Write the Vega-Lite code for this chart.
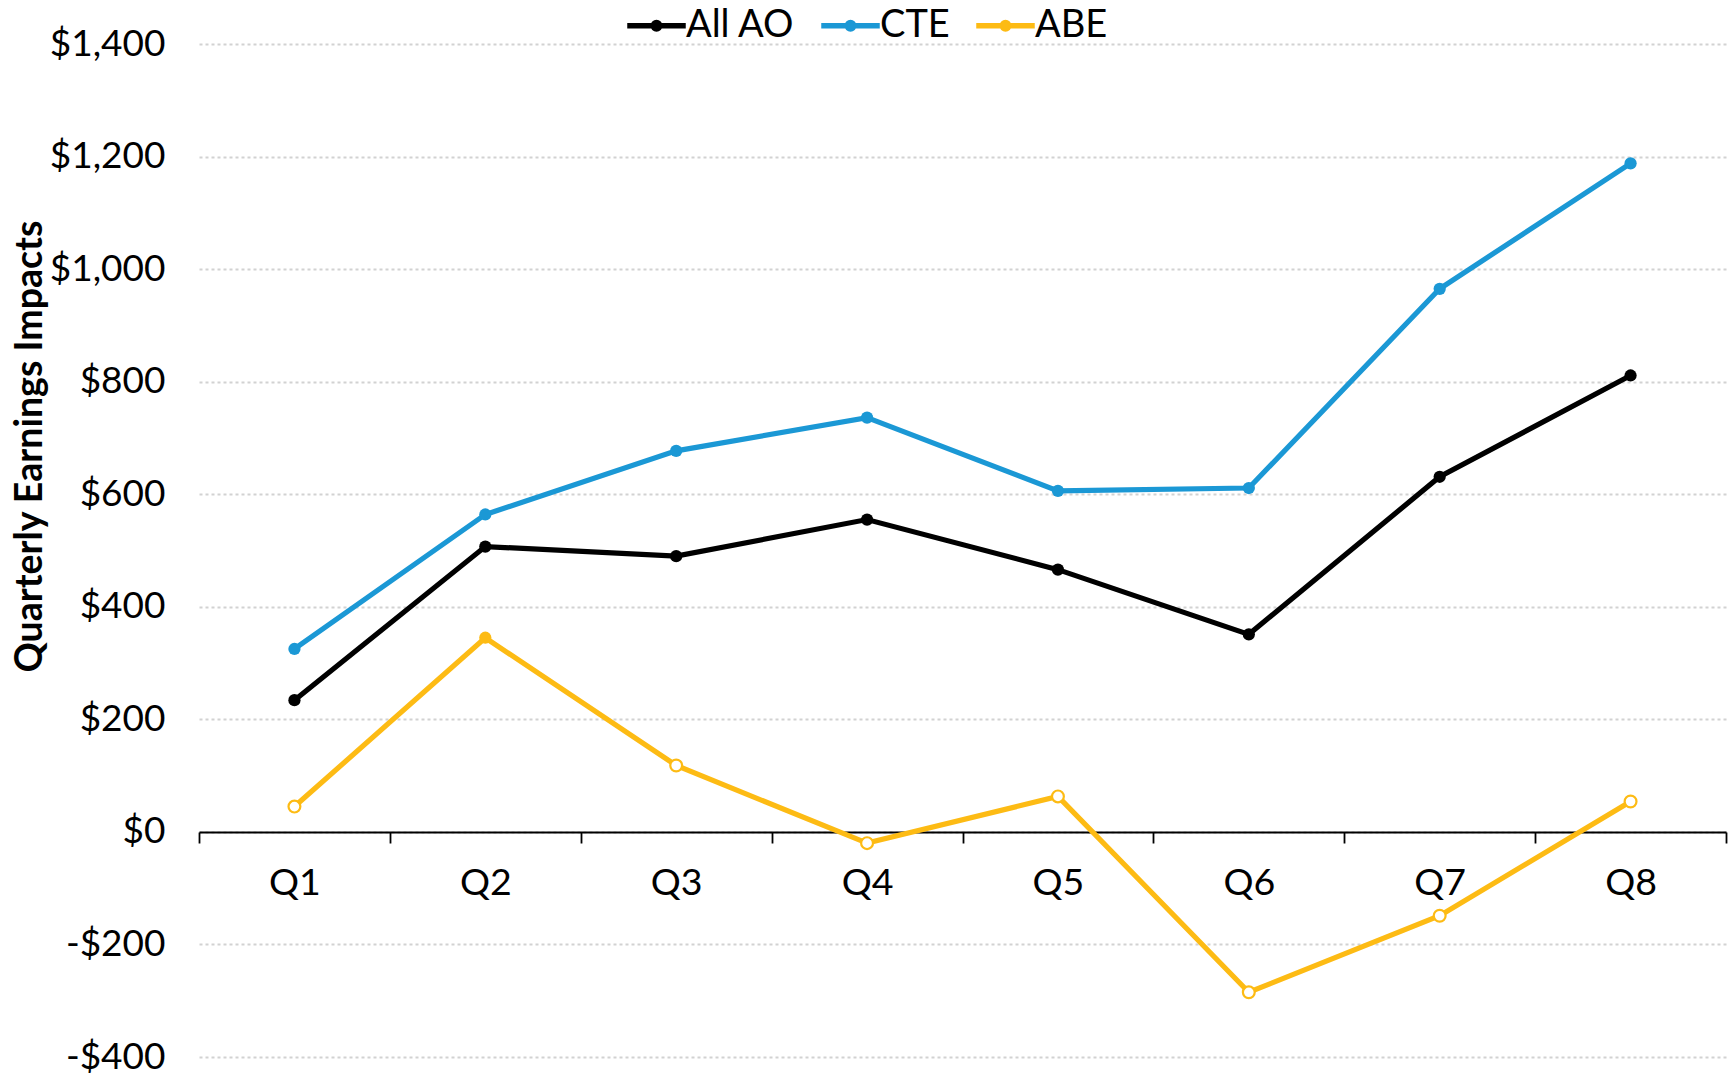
{
  "$schema": "https://vega.github.io/schema/vega-lite/v6.json",
  "width": 1527,
  "height": 1013,
  "autosize": {"type": "none"},
  "padding": {"left": 199, "top": 44, "right": 9, "bottom": 19},
  "background": "#ffffff",
  "config": {
    "font": "Lato",
    "view": {"stroke": null}
  },
  "data": {
    "values": [
      {"quarter": "Q1", "series": "All AO", "value": 234, "sig": true},
      {"quarter": "Q2", "series": "All AO", "value": 507, "sig": true},
      {"quarter": "Q3", "series": "All AO", "value": 490, "sig": true},
      {"quarter": "Q4", "series": "All AO", "value": 555, "sig": true},
      {"quarter": "Q5", "series": "All AO", "value": 466, "sig": true},
      {"quarter": "Q6", "series": "All AO", "value": 351, "sig": true},
      {"quarter": "Q7", "series": "All AO", "value": 631, "sig": true},
      {"quarter": "Q8", "series": "All AO", "value": 811, "sig": true},
      {"quarter": "Q1", "series": "CTE", "value": 325, "sig": true},
      {"quarter": "Q2", "series": "CTE", "value": 564, "sig": true},
      {"quarter": "Q3", "series": "CTE", "value": 677, "sig": true},
      {"quarter": "Q4", "series": "CTE", "value": 736, "sig": true},
      {"quarter": "Q5", "series": "CTE", "value": 606, "sig": true},
      {"quarter": "Q6", "series": "CTE", "value": 611, "sig": true},
      {"quarter": "Q7", "series": "CTE", "value": 965, "sig": true},
      {"quarter": "Q8", "series": "CTE", "value": 1188, "sig": true},
      {"quarter": "Q1", "series": "ABE", "value": 45, "sig": false},
      {"quarter": "Q2", "series": "ABE", "value": 345, "sig": true},
      {"quarter": "Q3", "series": "ABE", "value": 118, "sig": false},
      {"quarter": "Q4", "series": "ABE", "value": -20, "sig": false},
      {"quarter": "Q5", "series": "ABE", "value": 63, "sig": false},
      {"quarter": "Q6", "series": "ABE", "value": -285, "sig": false},
      {"quarter": "Q7", "series": "ABE", "value": -149, "sig": false},
      {"quarter": "Q8", "series": "ABE", "value": 54, "sig": false}
    ]
  },
  "encoding": {
    "x": {
      "field": "quarter",
      "type": "ordinal",
      "sort": null,
      "bandPosition": 0.5,
      "scale": {"type": "band", "paddingInner": 0, "paddingOuter": 0},
      "axis": {
        "title": null,
        "orient": "bottom",
        "offset": -225,
        "grid": false,
        "tickBand": "extent",
        "domainColor": "#000000",
        "domainWidth": 1.8,
        "tickColor": "#000000",
        "tickWidth": 1.8,
        "tickSize": 11,
        "labelAngle": 0,
        "labelFontSize": 37.5,
        "labelColor": "#000000",
        "labelPadding": 21
      }
    },
    "y": {
      "field": "value",
      "type": "quantitative",
      "scale": {"domain": [-400, 1400], "nice": false, "zero": false},
      "axis": {
        "title": "Quarterly Earnings Impacts",
        "titleFontSize": 37.5,
        "titleFontWeight": "bold",
        "titleColor": "#000000",
        "titleY": 402,
        "titlePadding": 0,
        "values": [-400, -200, 0, 200, 400, 600, 800, 1000, 1200, 1400],
        "labelExpr": "(datum.value < 0 ? '-' : '') + '$' + format(abs(datum.value), ',')",
        "labelFontSize": 37,
        "labelColor": "#000000",
        "labelPadding": 34,
        "ticks": false,
        "domain": false,
        "grid": true,
        "gridDash": [3, 3],
        "gridColor": "#d2d2d2",
        "gridWidth": 2
      }
    },
    "color": {
      "field": "series",
      "type": "nominal",
      "scale": {
        "domain": ["All AO", "CTE", "ABE"],
        "range": ["#000000", "#1b98d5", "#fdbb14"]
      },
      "legend": {
        "title": null,
        "orient": "none",
        "legendX": 428,
        "legendY": -48,
        "direction": "horizontal",
        "columns": 3,
        "padding": 0,
        "columnPadding": 22,
        "symbolType": "M-1,-0.05H-0.2V0.05H-1Z M0.2,-0.05H1V0.05H0.2Z M-0.17,0A0.17,0.17 0 1 0 0.17,0A0.17,0.17 0 1 0 -0.17,0",
        "symbolSize": 3136,
        "symbolStrokeWidth": 2.5,
        "labelFontSize": 38,
        "labelColor": "#000000",
        "labelOffset": 0,
        "encode": {
          "symbols": {
            "update": {
              "fill": {"signal": "datum.value === 'ABE' ? '#ffffff' : scale('color', datum.value)"},
              "stroke": {"signal": "scale('color', datum.value)"},
              "opacity": {"value": 1}
            }
          }
        }
      }
    }
  },
  "layer": [
    {
      "mark": {"type": "line", "strokeWidth": 5.2}
    },
    {
      "transform": [{"filter": "datum.sig"}],
      "mark": {"type": "point", "filled": true, "size": 150, "opacity": 1}
    },
    {
      "transform": [{"filter": "!datum.sig"}],
      "mark": {"type": "point", "filled": false, "fill": "#ffffff", "size": 140, "strokeWidth": 2.2, "opacity": 1}
    }
  ]
}
